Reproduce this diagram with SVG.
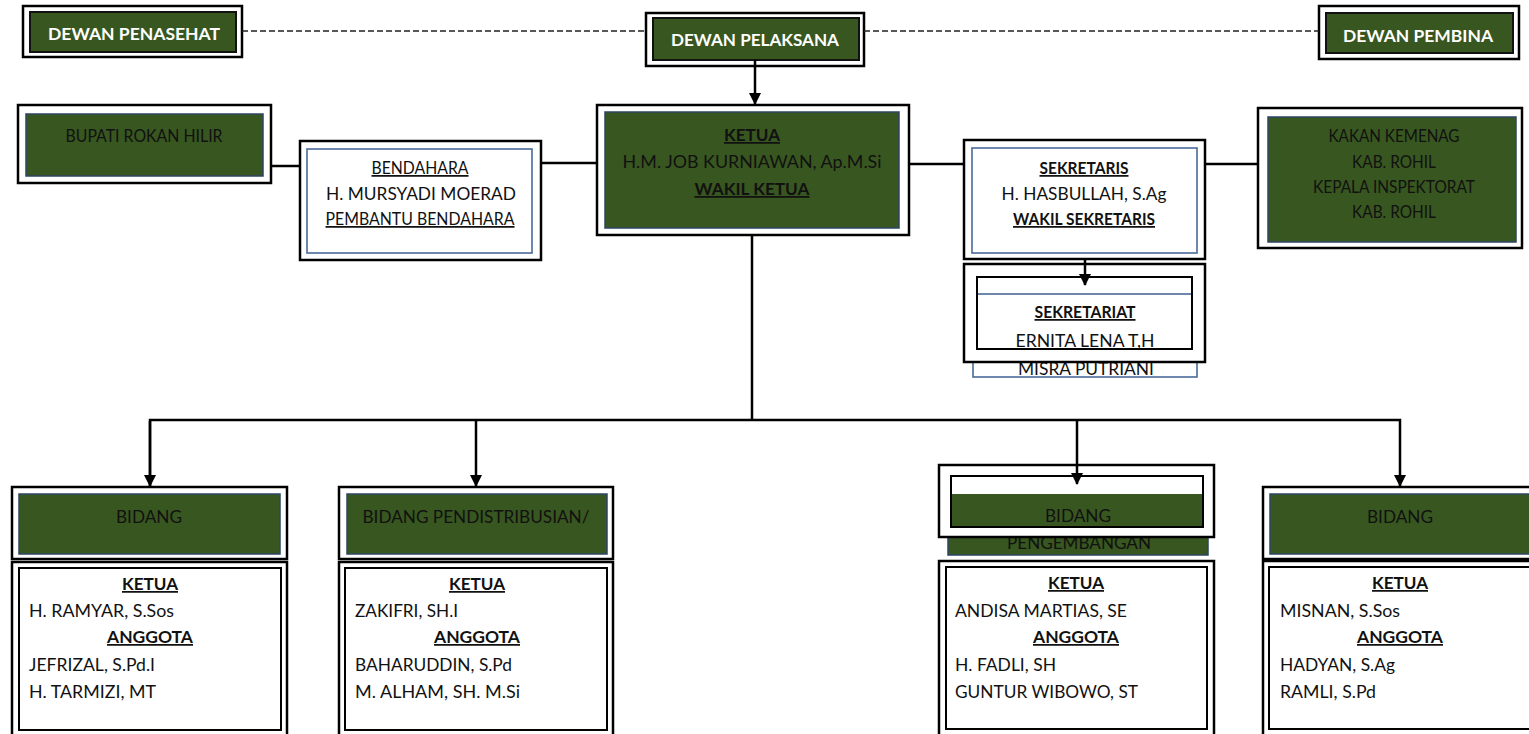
<svg xmlns="http://www.w3.org/2000/svg" width="1529" height="734" viewBox="0 0 1529 734">
<style>
text{font-family:Lato,"Open Sans","Liberation Sans",sans-serif;font-size:17.5px;fill:#111111}
.c{text-anchor:middle}
.b{font-weight:bold}
.u{text-decoration:underline}
.w{fill:#ffffff;font-weight:bold}
.frame{fill:#ffffff;stroke:#000;stroke-width:2.5}
.green{fill:#38561f;stroke:#2c4563;stroke-width:1.5}
.blue{fill:#ffffff;stroke:#4a6a9a;stroke-width:1.6}
.inner{fill:#ffffff;stroke:#000;stroke-width:2}
.line{fill:none;stroke:#000;stroke-width:2.5}
.dash{fill:none;stroke:#222;stroke-width:1.6;stroke-dasharray:6 3}
</style>
<defs>
<marker id="ah" markerUnits="userSpaceOnUse" markerWidth="12" markerHeight="12" viewBox="0 0 12 12" refX="11" refY="6" orient="auto">
<path d="M0,0 L12,6 L0,12 Z" fill="#000"/>
</marker>
</defs>
<rect width="1529" height="734" fill="#ffffff"/>

<g id="dewan-penasehat">
<rect class="frame" x="23" y="6" width="219" height="51"/>
<rect x="30" y="12" width="206" height="40" fill="#38561f" stroke="#111" stroke-width="2"/>
<text class="w c" x="134" y="40" textLength="172" lengthAdjust="spacingAndGlyphs">DEWAN PENASEHAT</text>
</g>
<g id="dewan-pelaksana">
<rect class="frame" x="646" y="13" width="218" height="53"/>
<rect x="653" y="18" width="206" height="42" fill="#38561f" stroke="#111" stroke-width="2"/>
<text class="w c" x="755" y="46" textLength="168" lengthAdjust="spacingAndGlyphs">DEWAN PELAKSANA</text>
</g>
<g id="dewan-pembina">
<rect class="frame" x="1319" y="6" width="200" height="53"/>
<rect x="1326" y="13" width="187" height="40" fill="#38561f" stroke="#111" stroke-width="2"/>
<text class="w c" x="1418" y="42" textLength="150" lengthAdjust="spacingAndGlyphs">DEWAN PEMBINA</text>
</g>

<g id="bupati">
<rect class="frame" x="18" y="105" width="253" height="78"/>
<rect class="green" x="26" y="114" width="237" height="62"/>
<text class="c" x="144" y="142" textLength="157" lengthAdjust="spacingAndGlyphs">BUPATI ROKAN HILIR</text>
</g>

<g id="bendahara">
<rect class="frame" x="300" y="141" width="241" height="119"/>
<rect class="blue" x="307" y="149" width="225" height="104"/>
<text class="c u" x="420" y="174" textLength="97" lengthAdjust="spacingAndGlyphs">BENDAHARA</text>
<text class="c" x="421" y="200" textLength="190" lengthAdjust="spacingAndGlyphs">H. MURSYADI MOERAD</text>
<text class="c u" x="420" y="225" textLength="189" lengthAdjust="spacingAndGlyphs">PEMBANTU BENDAHARA</text>
</g>

<g id="ketua">
<rect class="frame" x="597" y="105" width="312" height="130"/>
<rect class="green" x="605" y="112" width="294" height="116"/>
<text class="c b u" x="752" y="141" textLength="56" lengthAdjust="spacingAndGlyphs">KETUA</text>
<text class="c" x="752" y="168" textLength="259" lengthAdjust="spacingAndGlyphs">H.M. JOB KURNIAWAN, Ap.M.Si</text>
<text class="c b u" x="752" y="195" textLength="115" lengthAdjust="spacingAndGlyphs">WAKIL KETUA</text>
</g>

<g id="sekretaris">
<rect class="frame" x="964" y="140" width="241" height="119"/>
<rect class="blue" x="972" y="148" width="225" height="105"/>
<text class="c b u" x="1084" y="174" textLength="89" lengthAdjust="spacingAndGlyphs">SEKRETARIS</text>
<text class="c" x="1084" y="200" textLength="165" lengthAdjust="spacingAndGlyphs">H. HASBULLAH, S.Ag</text>
<text class="c b u" x="1084" y="225" textLength="142" lengthAdjust="spacingAndGlyphs">WAKIL SEKRETARIS</text>
</g>

<g id="sekretariat">
<rect class="blue" x="973" y="340" width="224" height="37"/>
<text class="c" x="1086" y="375" textLength="136" lengthAdjust="spacingAndGlyphs">MISRA PUTRIANI</text>
<rect class="frame" x="964" y="264" width="241" height="98"/>
<rect class="inner" x="977" y="277" width="215" height="72"/>
<line x1="978" y1="294" x2="1191" y2="294" stroke="#3d5f8f" stroke-width="1.6"/>
<text class="c b u" x="1085" y="318" textLength="101" lengthAdjust="spacingAndGlyphs">SEKRETARIAT</text>
<text class="c" x="1085" y="347" textLength="139" lengthAdjust="spacingAndGlyphs">ERNITA LENA T,H</text>
</g>

<g id="kakan">
<rect class="frame" x="1258" y="108" width="264" height="140"/>
<rect class="green" x="1268" y="117" width="248" height="125"/>
<text class="c" x="1394" y="142" textLength="131" lengthAdjust="spacingAndGlyphs">KAKAN KEMENAG</text>
<text class="c" x="1394" y="168" textLength="84" lengthAdjust="spacingAndGlyphs">KAB. ROHIL</text>
<text class="c" x="1394" y="193" textLength="162" lengthAdjust="spacingAndGlyphs">KEPALA INSPEKTORAT</text>
<text class="c" x="1394" y="218" textLength="84" lengthAdjust="spacingAndGlyphs">KAB. ROHIL</text>
</g>

<g id="bidang-1">
<rect class="frame" x="12" y="487" width="275" height="72"/>
<rect class="green" x="19" y="494" width="261" height="60"/>
<text class="c" x="149" y="523" textLength="66" lengthAdjust="spacingAndGlyphs">BIDANG</text>
<rect class="frame" x="12" y="562" width="275" height="180"/>
<rect class="inner" x="19" y="568" width="262" height="162"/>
<text class="c b u" x="150" y="590" textLength="56" lengthAdjust="spacingAndGlyphs">KETUA</text>
<text x="29" y="617" textLength="145" lengthAdjust="spacingAndGlyphs">H. RAMYAR, S.Sos</text>
<text class="c b u" x="150" y="643" textLength="86" lengthAdjust="spacingAndGlyphs">ANGGOTA</text>
<text x="29" y="671" textLength="126" lengthAdjust="spacingAndGlyphs">JEFRIZAL, S.Pd.I</text>
<text x="29" y="698" textLength="127" lengthAdjust="spacingAndGlyphs">H. TARMIZI, MT</text>
</g>

<g id="bidang-2">
<rect class="frame" x="339" y="487" width="274" height="72"/>
<rect class="green" x="347" y="494" width="260" height="60"/>
<text class="c" x="476" y="523" textLength="227" lengthAdjust="spacingAndGlyphs">BIDANG PENDISTRIBUSIAN/</text>
<rect class="frame" x="339" y="562" width="274" height="180"/>
<rect class="inner" x="345" y="568" width="262" height="162"/>
<text class="c b u" x="477" y="590" textLength="56" lengthAdjust="spacingAndGlyphs">KETUA</text>
<text x="355" y="617" textLength="103" lengthAdjust="spacingAndGlyphs">ZAKIFRI, SH.I</text>
<text class="c b u" x="477" y="643" textLength="86" lengthAdjust="spacingAndGlyphs">ANGGOTA</text>
<text x="355" y="671" textLength="157" lengthAdjust="spacingAndGlyphs">BAHARUDDIN, S.Pd</text>
<text x="355" y="698" textLength="165" lengthAdjust="spacingAndGlyphs">M. ALHAM, SH. M.Si</text>
</g>

<g id="bidang-3">
<rect class="green" x="948" y="500" width="260" height="55"/>
<text class="c" x="1079" y="549" textLength="144" lengthAdjust="spacingAndGlyphs">PENGEMBANGAN</text>
<rect class="frame" x="939" y="465" width="275" height="72"/>
<rect x="951" y="476" width="252" height="51" fill="#ffffff"/>
<rect x="951" y="494" width="252" height="33" fill="#38561f"/>
<rect x="951" y="476" width="252" height="51" fill="none" stroke="#000" stroke-width="2"/>
<text class="c" x="1078" y="522" textLength="66" lengthAdjust="spacingAndGlyphs">BIDANG</text>
<rect class="frame" x="939" y="561" width="275" height="181"/>
<rect class="inner" x="946" y="567" width="261" height="162"/>
<text class="c b u" x="1076" y="589" textLength="56" lengthAdjust="spacingAndGlyphs">KETUA</text>
<text x="955" y="617" textLength="172" lengthAdjust="spacingAndGlyphs">ANDISA MARTIAS, SE</text>
<text class="c b u" x="1076" y="643" textLength="86" lengthAdjust="spacingAndGlyphs">ANGGOTA</text>
<text x="955" y="671" textLength="101" lengthAdjust="spacingAndGlyphs">H. FADLI, SH</text>
<text x="955" y="698" textLength="183" lengthAdjust="spacingAndGlyphs">GUNTUR WIBOWO, ST</text>
</g>

<g id="bidang-4">
<rect class="frame" x="1263" y="487" width="280" height="72"/>
<rect class="green" x="1270" y="494" width="270" height="60"/>
<text class="c" x="1400" y="523" textLength="66" lengthAdjust="spacingAndGlyphs">BIDANG</text>
<rect class="frame" x="1263" y="561" width="280" height="181"/>
<rect class="inner" x="1269" y="567" width="270" height="162"/>
<text class="c b u" x="1400" y="589" textLength="56" lengthAdjust="spacingAndGlyphs">KETUA</text>
<text x="1280" y="617" textLength="120" lengthAdjust="spacingAndGlyphs">MISNAN, S.Sos</text>
<text class="c b u" x="1400" y="643" textLength="86" lengthAdjust="spacingAndGlyphs">ANGGOTA</text>
<text x="1280" y="671" textLength="115" lengthAdjust="spacingAndGlyphs">HADYAN, S.Ag</text>
<text x="1280" y="698" textLength="96" lengthAdjust="spacingAndGlyphs">RAMLI, S.Pd</text>
</g>

<g id="connectors">
<line class="dash" x1="242" y1="31" x2="646" y2="31"/>
<line class="dash" x1="864" y1="31" x2="1319" y2="31"/>
<line class="line" x1="755" y1="60" x2="755" y2="104" marker-end="url(#ah)"/>
<line class="line" x1="271" y1="166" x2="300" y2="166"/>
<line class="line" x1="541" y1="163" x2="597" y2="163"/>
<line class="line" x1="909" y1="164" x2="964" y2="164"/>
<line class="line" x1="1205" y1="164" x2="1258" y2="164"/>
<line class="line" x1="1085" y1="259" x2="1085" y2="285" marker-end="url(#ah)"/>
<line class="line" x1="752" y1="235" x2="752" y2="420"/>
<polyline class="line" points="150,486 150,420 1400,420 1400,486" marker-end="url(#ah)"/>
<line class="line" x1="150" y1="421" x2="150" y2="486" marker-end="url(#ah)"/>
<line class="line" x1="476" y1="420" x2="476" y2="486" marker-end="url(#ah)"/>
<line class="line" x1="1077" y1="420" x2="1077" y2="484" marker-end="url(#ah)"/>
</g>
</svg>
